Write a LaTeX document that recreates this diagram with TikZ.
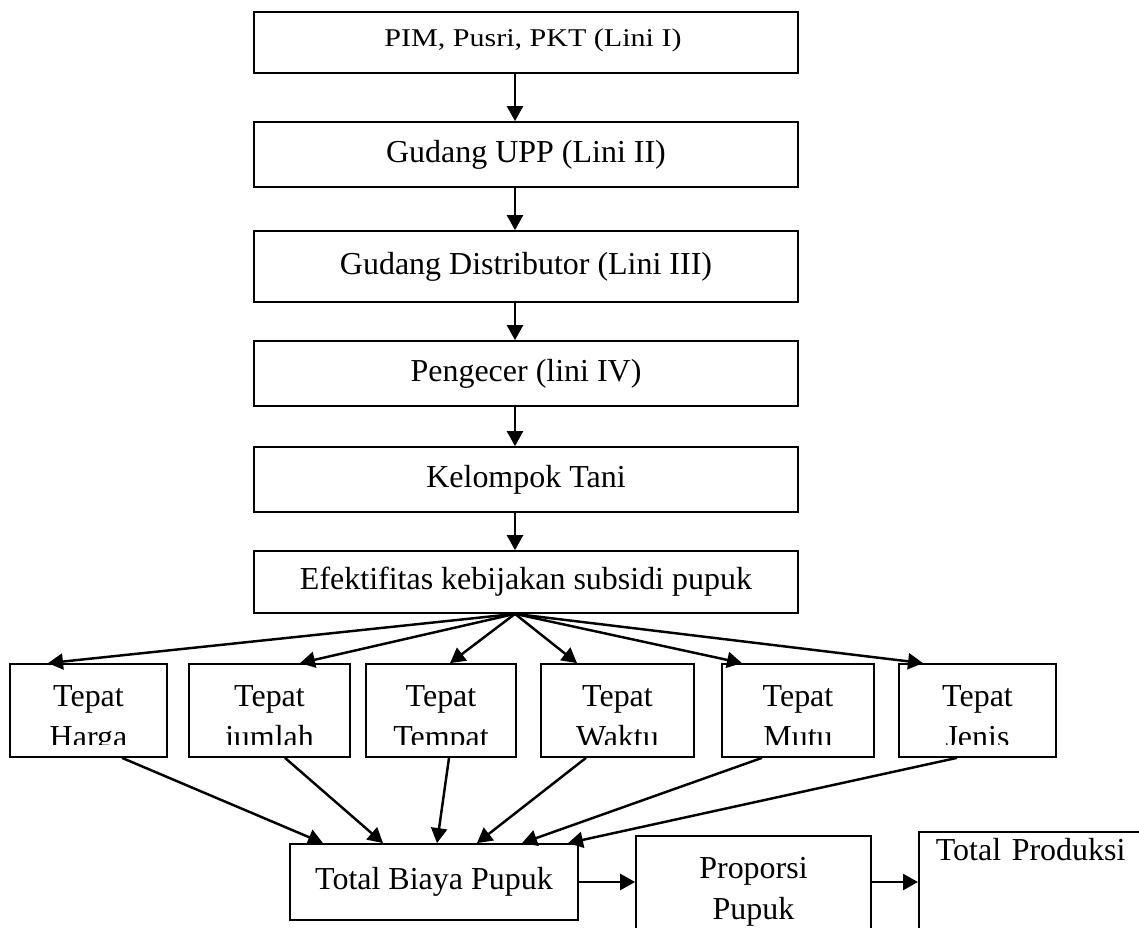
\documentclass[tikz,border=0pt]{standalone}
\usepackage{fontspec}
\setmainfont{Liberation Serif}
\usepackage{tikz}
\usetikzlibrary{arrows.meta,calc,positioning}

\begin{document}
\begin{tikzpicture}[
  x=0.02cm, y=-0.02cm,
  lini/.style={
    draw,
    line width=1pt,
    minimum width=10.88cm,
    inner sep=0pt,
    align=center,
    font=\fontsize{18.2}{22}\selectfont
  },
  teks/.style={
    anchor=base,
    draw=none,
    inner sep=0pt,
    font=\fontsize{18.2}{22}\selectfont
  },
  duabaris/.style 2 args={
    draw,
    line width=1pt,
    inner sep=0pt,
    path picture={
      \clip (path picture bounding box.north west)
        rectangle ([yshift=0.24cm]path picture bounding box.south east);
      \node[teks] at ([yshift=-0.85cm]path picture bounding box.north) {#1};
      \node[teks] at ([yshift=-1.67cm]path picture bounding box.north) {#2};
    }
  },
  tepat/.style={
    duabaris={Tepat}{#1},
    minimum height=1.86cm
  },
  arrow/.style={
    -{Triangle[length=0.3cm,width=0.32cm]},
    line width=1.4pt
  }
]
\clip (0,0) rectangle (1139,928);

% Alur distribusi
\node[lini, minimum height=1.22cm, line width=1.3pt,
  font=\fontsize{17.1}{20}\selectfont,
  text height=0.42cm, text depth=0.24cm] (lini1) at (526,42.5)
  {\hspace*{0.28cm}\scalebox{1}[0.85]{PIM, Pusri, PKT (Lini I)}};
\node[lini, minimum height=1.30cm] (lini2) at (526,154.5)
  {Gudang UPP (Lini II)};
\node[lini, minimum height=1.42cm] (lini3) at (526,266.5)
  {Gudang Distributor (Lini III)};
\node[lini, minimum height=1.30cm] (lini4) at (526,373.5)
  {Pengecer (lini IV)};
\node[lini, minimum height=1.30cm] (tani) at (526,479.5)
  {Kelompok Tani};
\node[lini, minimum height=1.24cm] (efek) at (526,582)
  {Efektifitas kebijakan subsidi pupuk};

% Enam ketepatan
\node[tepat=Harga, minimum width=3.14cm] (harga) at (88.5,710.5) {};
\node[tepat=jumlah, minimum width=3.22cm] (jumlah) at (269.5,710.5) {};
\node[tepat=Tempat, minimum width=3.00cm] (tempat) at (441,710.5) {};
\node[tepat=Waktu, minimum width=3.06cm] (waktu) at (617.5,710.5) {};
\node[tepat=Mutu, minimum width=3.04cm] (mutu) at (798,710.5) {};
\node[tepat=Jenis, minimum width=3.14cm] (jenis) at (977.5,710.5) {};

% Hasil
\node[lini, minimum width=5.76cm, minimum height=1.52cm] (biaya) at (434,882)
  {Total Biaya Pupuk};
\node[duabaris={Proporsi}{Pupuk}, minimum width=4.70cm,
  minimum height=2.48cm] (proporsi) at (753.5,898) {};
\node[draw, line width=1pt, anchor=north west, inner xsep=0.34cm,
  inner ysep=0pt, text width=4.16cm, align=left, text height=0.58cm,
  text depth=2.0cm, font=\fontsize{18.2}{22}\selectfont] (produksi) at (918,831)
  {Total Produksi};

% Lini I -> Kelompok Tani -> Efektifitas
\draw[arrow] ([xshift=-0.22cm]lini1.south) -- ([xshift=-0.22cm]lini2.north);
\draw[arrow] ([xshift=-0.22cm]lini2.south) -- ([xshift=-0.22cm]lini3.north);
\draw[arrow] ([xshift=-0.22cm]lini3.south) -- ([xshift=-0.22cm]lini4.north);
\draw[arrow] ([xshift=-0.22cm]lini4.south) -- ([xshift=-0.22cm]tani.north);
\draw[arrow] ([xshift=-0.22cm]tani.south) -- ([xshift=-0.22cm]efek.north);

% Efektifitas -> enam ketepatan
\coordinate (pusat) at ([xshift=-0.22cm]efek.south);
\draw[arrow] (pusat) -- ([xshift=-0.81cm]harga.north);
\draw[arrow] (pusat) -- ([xshift=0.61cm]jumlah.north);
\draw[arrow] (pusat) -- ([xshift=0.18cm]tempat.north);
\draw[arrow] (pusat) -- ([xshift=-0.81cm]waktu.north);
\draw[arrow] (pusat) -- ([xshift=-1.12cm]mutu.north);
\draw[arrow] (pusat) -- ([xshift=-1.09cm]jenis.north);

% Enam ketepatan -> Total Biaya Pupuk
\draw[arrow] ([xshift=0.67cm]harga.south) -- ([xshift=-2.22cm]biaya.north);
\draw[arrow] ([xshift=0.31cm]jumlah.south) -- ([xshift=-1.02cm]biaya.north);
\draw[arrow] ([xshift=0.16cm]tempat.south) -- ([xshift=0.06cm]biaya.north);
\draw[arrow] ([xshift=-0.63cm]waktu.south) -- ([xshift=0.86cm]biaya.north);
\draw[arrow] ([xshift=-0.72cm]mutu.south) -- ([xshift=1.76cm]biaya.north);
\draw[arrow] ([xshift=-0.41cm]jenis.south) -- ([xshift=2.68cm]biaya.north);

% Biaya -> Proporsi -> Produksi
\draw[arrow] (biaya.east) -- (biaya.east -| proporsi.west);
\draw[arrow] (biaya.east -| proporsi.east) -- (biaya.east -| produksi.west);

\end{tikzpicture}
\end{document}
